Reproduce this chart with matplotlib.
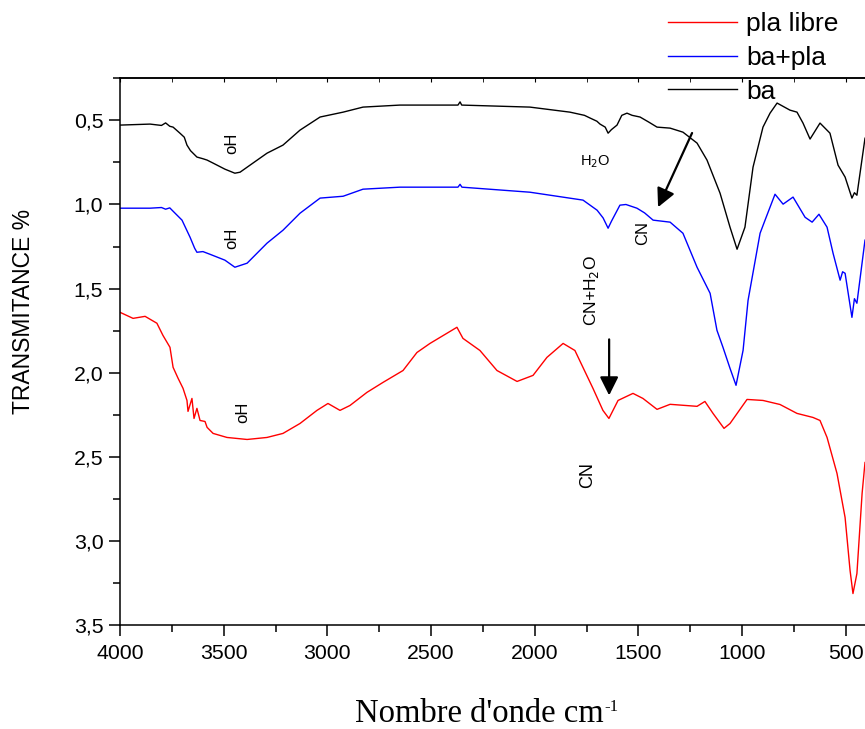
import matplotlib
matplotlib.use("Agg")
import matplotlib.pyplot as plt
from matplotlib.ticker import MultipleLocator, FixedLocator, FixedFormatter

plt.rcParams['font.family'] = ['Liberation Sans', 'DejaVu Sans']

# wavenumber (cm-1) and transmitance values
ba_wn = [4000, 3855, 3800, 3780, 3760, 3744, 3711, 3690, 3677, 3660, 3629, 3600, 3580,
         3551, 3494, 3446, 3421, 3359, 3291, 3214, 3132, 3035, 2924, 2828, 2650, 2505,
         2370, 2360, 2352, 2023, 1830, 1760, 1733, 1700, 1685, 1660, 1646, 1630, 1603,
         1580, 1555, 1530, 1492, 1450, 1410, 1347, 1285, 1217, 1169, 1106, 1058, 1024,
         986, 947, 899, 865, 831, 769, 735, 706, 672, 624, 576, 537, 503, 470, 458,
         446, 407]
ba_val = [0.528, 0.522, 0.530, 0.515, 0.535, 0.540, 0.576, 0.600, 0.647, 0.680, 0.718,
          0.728, 0.736, 0.754, 0.790, 0.814, 0.808, 0.754, 0.695, 0.647, 0.558, 0.480,
          0.451, 0.421, 0.409, 0.409, 0.409, 0.390, 0.409, 0.421, 0.451, 0.470, 0.486,
          0.505, 0.522, 0.540, 0.576, 0.555, 0.528, 0.470, 0.457, 0.470, 0.480, 0.510,
          0.540, 0.546, 0.570, 0.635, 0.736, 0.933, 1.135, 1.266, 1.135, 0.778, 0.540,
          0.457, 0.397, 0.439, 0.451, 0.516, 0.611, 0.516, 0.576, 0.766, 0.837, 0.962,
          0.930, 0.945, 0.606]

ba_pla_wn = [4000, 3855, 3800, 3780, 3760, 3744, 3701, 3662, 3640, 3629, 3600, 3566,
             3494, 3446, 3387, 3291, 3214, 3132, 3035, 2924, 2828, 2650, 2370, 2360,
             2351, 2023, 1767, 1699, 1670, 1646, 1630, 1589, 1560, 1507, 1470, 1429,
             1347, 1285, 1217, 1154, 1121, 1092, 1058, 1029, 995, 971, 913, 889, 841,
             802, 754, 696, 662, 629, 590, 561, 527, 515, 503, 470, 458, 446, 407]
ba_pla_val = [1.022, 1.022, 1.018, 1.028, 1.020, 1.040, 1.093, 1.195, 1.260, 1.284,
              1.280, 1.296, 1.331, 1.373, 1.349, 1.230, 1.153, 1.052, 0.962, 0.951,
              0.909, 0.897, 0.897, 0.880, 0.897, 0.927, 0.974, 1.034, 1.080, 1.141,
              1.100, 1.004, 1.000, 1.022, 1.050, 1.093, 1.105, 1.171, 1.373, 1.528,
              1.748, 1.849, 1.974, 2.075, 1.867, 1.570, 1.171, 1.093, 0.939, 0.998,
              0.956, 1.076, 1.105, 1.058, 1.135, 1.290, 1.450, 1.400, 1.409, 1.671,
              1.560, 1.587, 1.212]

pla_wn = [4000, 3937, 3879, 3822, 3793, 3759, 3744, 3720, 3696, 3677, 3672, 3653,
          3643, 3629, 3614, 3590, 3580, 3551, 3484, 3387, 3291, 3214, 3132, 3050,
          2997, 2939, 2891, 2809, 2732, 2635, 2568, 2505, 2375, 2346, 2264, 2182,
          2085, 2008, 1941, 1863, 1806, 1767, 1719, 1671, 1642, 1598, 1526, 1478,
          1410, 1347, 1217, 1179, 1140, 1087, 1058, 976, 899, 817, 735, 658, 624,
          590, 542, 503, 479, 465, 446, 421, 407]
pla_val = [1.641, 1.677, 1.665, 1.706, 1.778, 1.849, 1.968, 2.033, 2.093, 2.165,
           2.230, 2.153, 2.272, 2.212, 2.284, 2.290, 2.325, 2.361, 2.385, 2.397,
           2.385, 2.361, 2.302, 2.224, 2.183, 2.224, 2.195, 2.117, 2.058, 1.987,
           1.880, 1.826, 1.730, 1.796, 1.868, 1.987, 2.052, 2.016, 1.909, 1.826,
           1.868, 1.969, 2.093, 2.224, 2.272, 2.165, 2.123, 2.153, 2.218, 2.188,
           2.200, 2.171, 2.242, 2.331, 2.302, 2.159, 2.165, 2.189, 2.242, 2.266,
           2.284, 2.385, 2.599, 2.861, 3.176, 3.313, 3.194, 2.718, 2.534]

ytick_vals = [0.5, 1.0, 1.5, 2.0, 2.5, 3.0, 3.5]
ytick_labels = ['0,5', '1,0', '1,5', '2,0', '2,5', '3,0', '3,5']
xtick_vals = [4000, 3500, 3000, 2500, 2000, 1500, 1000, 500]

fig = plt.figure(figsize=(8.65, 7.29), dpi=100)
ax = fig.add_axes([120 / 865, 104 / 729, 745 / 865, 547 / 729])

ax.plot(pla_wn, pla_val, color='#ff0000', lw=1.0, label='pla libre')
ax.plot(ba_pla_wn, ba_pla_val, color='#0000ff', lw=1.0, label='ba+pla')
ax.plot(ba_wn, ba_val, color='black', lw=1.0, label='ba')

ax.set_xlim(4000, 407)
ax.set_ylim(3.5, 0.248)

ax.xaxis.set_major_locator(FixedLocator(xtick_vals))
ax.xaxis.set_minor_locator(MultipleLocator(250))
ax.yaxis.set_major_locator(FixedLocator(ytick_vals))
ax.yaxis.set_major_formatter(FixedFormatter(ytick_labels))
ax.yaxis.set_minor_locator(MultipleLocator(0.25))

for s in ax.spines.values():
    s.set_linewidth(1.1)
ax.spines['right'].set_visible(False)

ax.tick_params(axis='both', which='major', direction='out', length=8, width=1.1,
               labelsize=15.3, pad=4)
ax.tick_params(axis='both', which='minor', direction='out', length=5, width=1.1)
ax.tick_params(axis='x', which='major', pad=6)

# Origin-like top axis: short inward ticks
sec = ax.secondary_xaxis('top')
sec.xaxis.set_major_locator(FixedLocator(xtick_vals))
sec.xaxis.set_minor_locator(MultipleLocator(250))
sec.tick_params(which='both', direction='in', length=3, labeltop=False)
sec.spines['top'].set_linewidth(1.1)

# band labels
ax.text(3460, 0.636, 'oH', rotation=90, ha='center', va='center', fontsize=12)
ax.text(3460, 1.20, 'oH', rotation=90, ha='center', va='center', fontsize=12)
ax.text(3407, 2.237, 'oH', rotation=90, ha='center', va='center', fontsize=12)
ax.text(1709, 0.743, 'H$_2$O', ha='center', va='center', fontsize=10.5,
        math_fontfamily='dejavusans')
ax.text(1478, 1.17, 'CN', rotation=90, ha='center', va='center', fontsize=12)
ax.text(1724, 1.51, 'CN+H$_2$O', rotation=90, ha='center', va='center', fontsize=12.5,
        math_fontfamily='dejavusans')
ax.text(1743, 2.61, 'CN', rotation=90, ha='center', va='center', fontsize=13)

ax.annotate('', xy=(1405, 1.016), xytext=(1241, 0.575),
            arrowprops=dict(arrowstyle='-|>', color='black', lw=1.6, mutation_scale=28,
                            shrinkA=0, shrinkB=0))
ax.annotate('', xy=(1641, 2.135), xytext=(1641, 1.802),
            arrowprops=dict(arrowstyle='-|>', color='black', lw=1.6, mutation_scale=28,
                            shrinkA=0, shrinkB=0))

fig.text(24 / 865, 1 - 311 / 729, 'TRANSMITANCE %', rotation=90, ha='center',
         va='center', fontsize=16.5)

# x label: serif text with a small raised "-1"
xl = fig.text(355 / 865, 1 - 722 / 729, "Nombre d'onde cm", ha='left',
              va='baseline', fontsize=23.5, family='Liberation Serif')
fig.canvas.draw()
bb = xl.get_window_extent()
fig.text((bb.x1 + 1) / 865, 1 - 711 / 729, "-1", ha='left', va='baseline',
         fontsize=12, family='Liberation Serif')

leg = ax.legend(loc='upper left', bbox_to_anchor=(668 / 865, 1 - 12 / 729),
                bbox_transform=fig.transFigure, frameon=False, fontsize=19,
                handlelength=2.6, handletextpad=0.35, labelspacing=0.37,
                borderpad=0, borderaxespad=0)

fig.savefig('out.png', dpi=100)
